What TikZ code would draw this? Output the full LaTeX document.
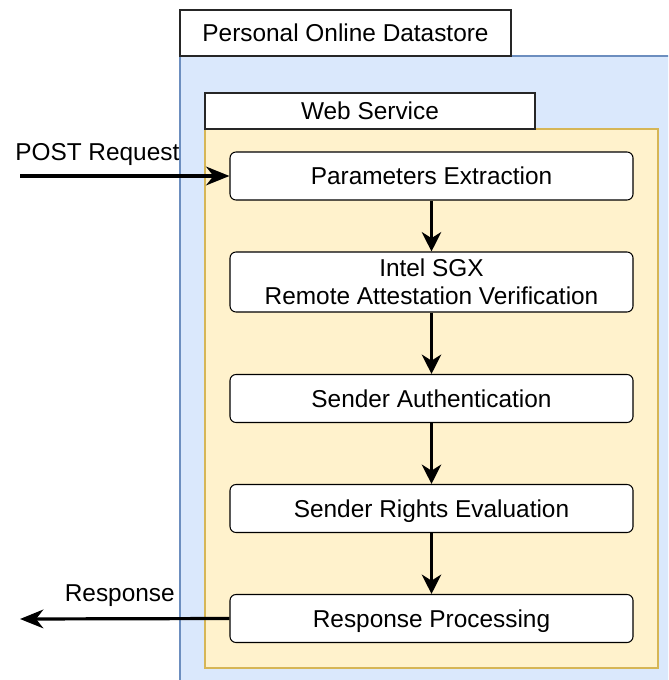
\documentclass[tikz,border=0pt]{standalone}
\usepackage{fontspec}
\setmainfont{Liberation Sans}
\usetikzlibrary{arrows.meta}
\definecolor{pfill}{HTML}{DAE8FC}
\definecolor{pline}{HTML}{6C8EBF}
\definecolor{yfill}{HTML}{FFF2CC}
\definecolor{yline}{HTML}{D6B656}
\tikzset{
  txt/.style={font=\fontsize{18.3}{21}\selectfont},
  stepbox/.style={draw=black, line width=0.8pt, fill=white, rounded corners=4.5pt,
    minimum width=403*0.75pt, minimum height=48*0.75pt, align=center, inner sep=0pt, txt},
  oneline/.style={text height=13.2pt, text depth=0.4pt},
  titlebox/.style={draw=black!85, line width=0.8pt, fill=white, inner sep=0pt, txt, text height=13.2pt, text depth=0.4pt},
  flow/.style={line width=2.4pt, -{Stealth[length=14.5pt, width=14.5pt, inset=4.5pt]}},
  hflow/.style={line width=2.4pt, -{Stealth[length=17.5pt, width=14pt, inset=5.5pt]}},
}
\begin{document}
\begin{tikzpicture}[x=0.75pt, y=-0.75pt]
\useasboundingbox (0,0) rectangle (668,680);
\clip (0,0) rectangle (668,680);
% containers
\draw[pline, fill=pfill, line width=0.8pt] (180,56) rectangle (700,700);
\node[titlebox, minimum width=331*0.75pt, minimum height=46*0.75pt] (pod) at (345.5,33) {Personal Online Datastore};
\draw[yline, fill=yfill, line width=0.8pt] (205,129) rectangle (658,668);
\node[titlebox, minimum width=330*0.75pt, minimum height=36*0.75pt] (ws) at (370,111) {Web Service};
% steps
\node[stepbox, oneline] (pe) at (431.5,176) {Parameters Extraction};
\node[stepbox, minimum height=60*0.75pt] (sgx) at (431.5,282) {\fontsize{18.3}{21.5}\selectfont Intel SGX\\Remote Attestation Verification};
\node[stepbox, oneline] (sa) at (431.5,398.5) {Sender Authentication};
\node[stepbox, oneline] (sr) at (431.5,508.5) {Sender Rights Evaluation};
\node[stepbox, oneline] (rp) at (431.5,618.5) {Response Processing};
% flows
\draw[flow] (pe) -- (sgx);
\draw[flow] (sgx) -- (sa);
\draw[flow] (sa) -- (sr);
\draw[flow] (sr) -- (rp);
\coordinate (inp) at (20,176);
\coordinate (outp) at (20,619);
\draw[hflow] (inp) -- (pe.west);
\draw[hflow] (rp.west) -- (outp);
\node[txt, anchor=base west, inner sep=0pt] (postlbl) at (15,161) {POST Request};
\node[txt, anchor=base east, inner sep=0pt] (resplbl) at (175,601) {Response};
\end{tikzpicture}
\end{document}
